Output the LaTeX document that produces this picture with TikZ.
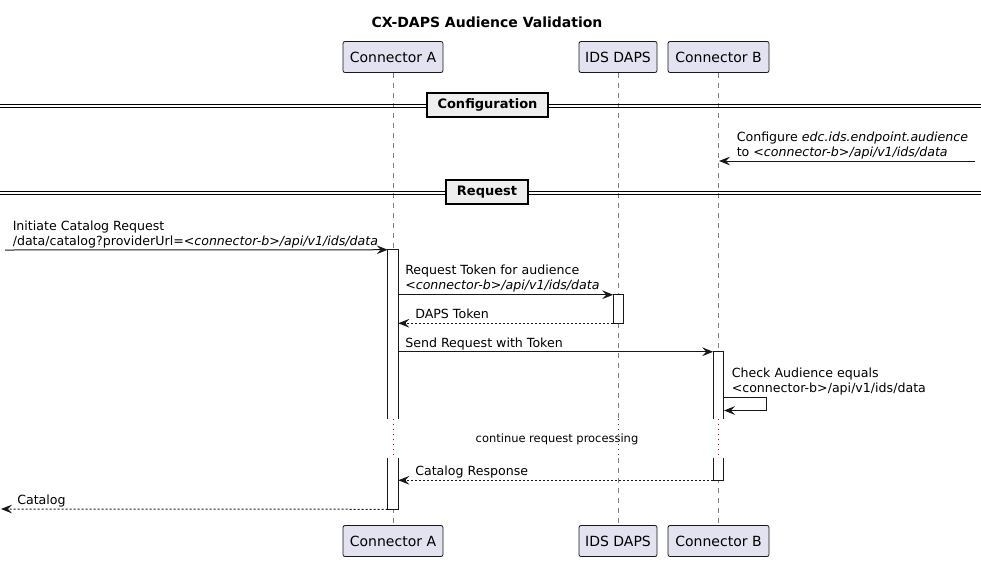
\documentclass[tikz,border=0pt]{standalone}
\usepackage{fontspec}
\setmainfont{DejaVu Sans}
\usetikzlibrary{arrows.meta,fit}
\definecolor{partfill}{HTML}{E2E2F0}
\definecolor{lineC}{HTML}{181818}
\definecolor{lifeC}{HTML}{808080}
\definecolor{delayC}{HTML}{A80036}
\definecolor{divfill}{HTML}{EEEEEE}
\begin{document}
\begin{tikzpicture}[x=0.75pt,y=-0.75pt,
  part/.style={draw=lineC,fill=partfill,rounded corners=1.5pt,line width=0.6pt,
    minimum height=23.25pt,inner sep=0pt,font=\fontsize{10.5}{12}\selectfont},
  lifeline/.style={draw=lifeC,line width=0.5pt,dash pattern=on 3.75pt off 3.75pt},
  delayline/.style={draw=delayC,line width=0.75pt,dash pattern=on 0.75pt off 3pt},
  actbox/.style={fill=white,draw=none,inner sep=0pt},
  actedge/.style={draw=lineC,line width=0.75pt},
  msg/.style={anchor=base west,inner sep=0pt,font=\fontsize{9.45}{11}\selectfont},
  arr/.style={draw=lineC,line width=0.75pt,-{Stealth[length=8.25pt,width=6.5pt,inset=3pt]}},
  ret/.style={arr,dash pattern=on 1.5pt off 1.5pt},
  divbox/.style={draw=black,fill=divfill,line width=1.5pt,inner sep=0pt,minimum height=18pt,
    font=\fontsize{9.75}{11}\selectfont\bfseries},
  divline/.style={draw=black,line width=0.75pt},
  titlestyle/.style={inner sep=0pt,font=\fontsize{10.5}{12}\selectfont\bfseries}
]
\useasboundingbox (0,0) rectangle (981,561);

% title
\node[titlestyle,anchor=base] (title) at (487,27) {CX-DAPS Audience Validation};

% participants
\node[part,minimum width=75pt] (pA) at (393,57) {Connector A};
\node[part,minimum width=58.5pt] (pD) at (618,57) {IDS DAPS};
\node[part,minimum width=75.75pt] (pB) at (718.5,57) {Connector B};
\node[part,minimum width=75pt] (pAb) at (393,541) {Connector A};
\node[part,minimum width=58.5pt] (pDb) at (618,541) {IDS DAPS};
\node[part,minimum width=75.75pt] (pBb) at (718.5,541) {Connector B};

% delay coordinates
\coordinate (dA1) at (393,419); \coordinate (dA2) at (393,458);
\coordinate (dD1) at (618,419); \coordinate (dD2) at (618,458);
\coordinate (dB1) at (718.5,419); \coordinate (dB2) at (718.5,458);

% lifelines
\draw[lifeline] (pA.south) -- (dA1);
\draw[lifeline] (dA2) -- (pAb.north);
\draw[lifeline] (pD.south) -- (dD1);
\draw[lifeline] (dD2) -- (pDb.north);
\draw[lifeline] (pB.south) -- (dB1);
\draw[lifeline] (dB2) -- (pBb.north);
\draw[delayline] (dA1) -- (dA2);
\draw[delayline] (dD1) -- (dD2);
\draw[delayline] (dB1) -- (dB2);
\node[inner sep=0pt,anchor=base,font=\fontsize{8.6}{10}\selectfont] (delaytxt) at (557,442) {continue request processing};

% dividers
\draw[divline] (0,104) -- (981,104);
\draw[divline] (0,107) -- (981,107);
\node[divbox,minimum width=90.75pt] (divCfg) at (487.5,104.5) {Configuration};
\draw[divline] (0,191) -- (981,191);
\draw[divline] (0,194.3) -- (981,194.3);
\node[divbox,minimum width=61.5pt] (divReq) at (487,192) {Request};

% configuration message
\coordinate (cfgStart) at (975,161);
\coordinate (cfgEnd) at (719,161);
\draw[arr] (cfgStart) -- (cfgEnd);
\node[msg] (cfg1) at (736.5,141.5) {Configure \textit{edc.ids.endpoint.audience}};
\node[msg] (cfg2) at (736.5,156.5) {to \textit{<connector-b>/api/v1/ids/data}};

% activation bars
\node[actbox,fit={(388,250)(398,419)}] (actA1) {};
\node[actbox,fit={(388,458)(398,509)}] (actA2) {};
\node[actbox,fit={(613.5,295)(623.5,323)}] (actD) {};
\node[actbox,fit={(713.5,352)(723.5,419)}] (actB1) {};
\node[actbox,fit={(713.5,458)(723.5,480)}] (actB2) {};
\draw[actedge] (actA1.south west) -- (actA1.north west) -- (actA1.north east) -- (actA1.south east);
\draw[actedge] (actA2.north west) -- (actA2.south west) -- (actA2.south east) -- (actA2.north east);
\draw[actedge] (actD.south west) rectangle (actD.north east);
\draw[actedge] (actB1.south west) -- (actB1.north west) -- (actB1.north east) -- (actB1.south east);
\draw[actedge] (actB2.north west) -- (actB2.south west) -- (actB2.south east) -- (actB2.north east);

% 1 initiate
\coordinate (userIn) at (5,250);
\draw[arr] (userIn) -- (actA1.north west);
\node[msg] (m1a) at (12.5,230.5) {Initiate Catalog Request};
\node[msg] (m1b) at (12.5,245.5) {/data/catalog?providerUrl=\textit{<connector-b>/api/v1/ids/data}};

% 2 request token
\draw[arr] (actA1.east |- actD.north west) -- (actD.north west);
\node[msg] (m2a) at (405,274.5) {Request Token for audience};
\node[msg] (m2b) at (405,289.5) {\textit{<connector-b>/api/v1/ids/data}};

% 3 DAPS token
\draw[ret] (actD.south west) -- (actA1.east |- actD.south west);
\node[msg] (m3) at (415,318.8) {DAPS Token};

% 4 send request
\draw[arr] (actA1.east |- actB1.north west) -- (actB1.north west);
\node[msg] (m4) at (405,347.5) {Send Request with Token};

% 5 self check
\coordinate (selfA) at (723.5,397.5);
\coordinate (selfB) at (766.5,397.5);
\coordinate (selfC) at (766.5,410.5);
\coordinate (selfD) at (724,410.5);
\draw[arr] (selfA) -- (selfB) -- (selfC) -- (selfD);
\node[msg] (m5a) at (731.5,377) {Check Audience equals};
\node[msg] (m5b) at (731.5,392.5) {<connector-b>/api/v1/ids/data};

% 6 catalog response
\draw[ret] (actB2.south west) -- (actA2.east |- actB2.south west);
\node[msg] (m6) at (415,475.5) {Catalog Response};

% 7 catalog
\coordinate (userOut) at (1,509);
\draw[ret] (actA2.south west) -- (userOut);
\node[msg] (m7) at (17,504.5) {Catalog};
\end{tikzpicture}
\end{document}
